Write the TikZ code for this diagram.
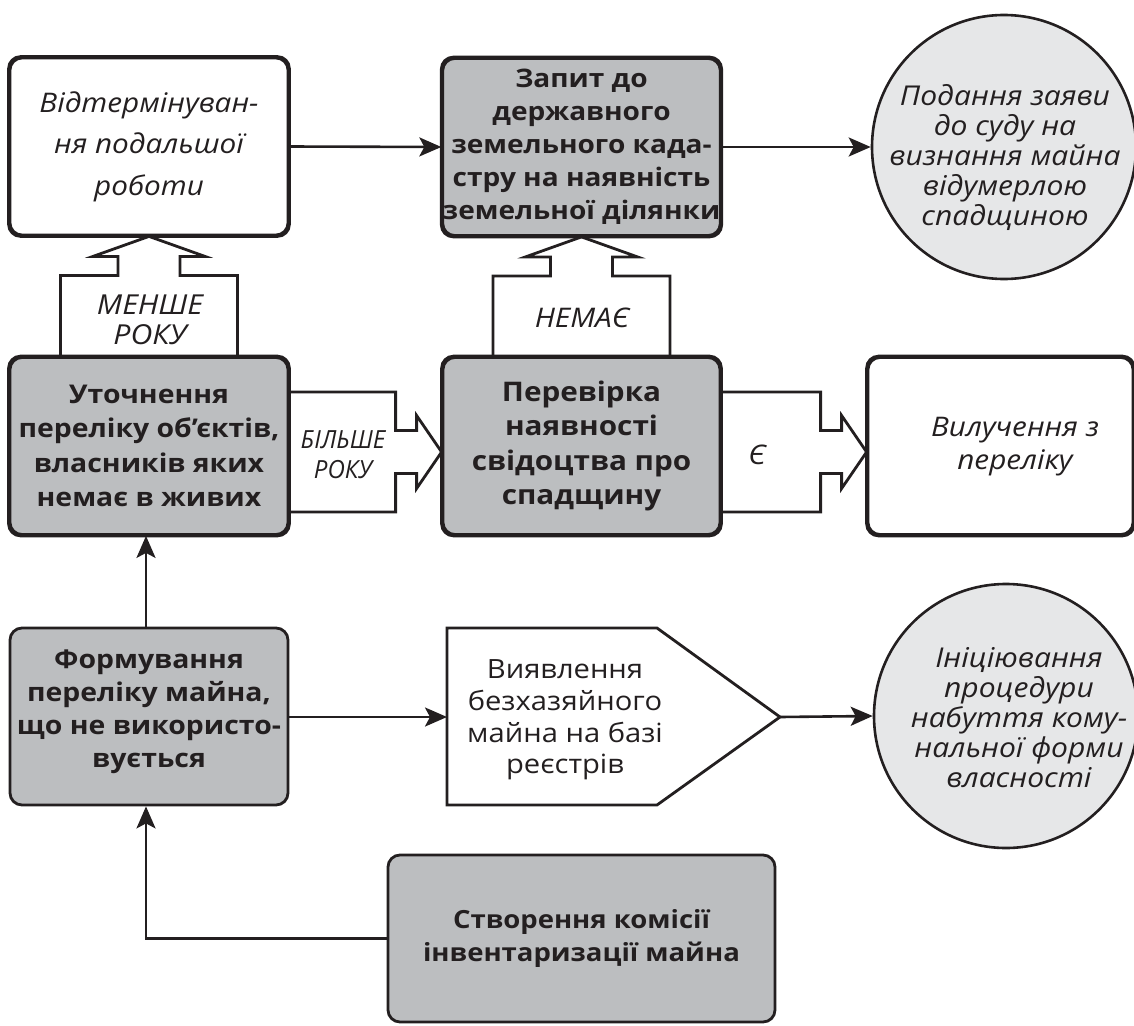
\documentclass[tikz,border=0pt]{standalone}
\usepackage{fontspec}
\setmainfont{Open Sans}[FakeStretch=1.1]
\usetikzlibrary{arrows.meta,calc}
\definecolor{ink}{HTML}{231F20}
\definecolor{boxgray}{HTML}{BCBEC0}
\definecolor{circgray}{HTML}{E6E7E8}

\begin{document}
\begin{tikzpicture}[x=1pt,y=-1pt,
  every node/.style={text=ink},
  card/.style={draw=ink, line width=2.8pt, rounded corners=12pt, rectangle,
    align=center, inner sep=0pt, minimum width=278pt, minimum height=177pt},
  greycard/.style={card, fill=boxgray},
  whitecard/.style={card, fill=white},
  disc/.style={draw=ink, line width=2.6pt, circle, fill=circgray,
    minimum size=264pt, inner sep=0pt},
  link/.style={draw=ink, line width=2.6pt, -{Stealth[length=22pt,width=19pt,inset=5pt]}},
  fat/.style={draw=ink, line width=2.8pt, fill=white, line join=miter},
  boldtxt/.style={font=\fontsize{25.8}{33}\selectfont\bfseries, align=center},
  boldsm/.style={font=\fontsize{25.5}{33}\selectfont\bfseries, align=center},
  itxt/.style={font=\fontsize{27}{33}\selectfont\itshape, align=center},
  ctxt/.style={font=\fontsize{27.3}{30}\selectfont\itshape, align=center},
  rtxt/.style={font=\fontsize{26.5}{31.7}\selectfont, align=center},
]
\useasboundingbox (0,0) rectangle (1134,1025);
\clip (0,0) rectangle (1134,1025);

% ---- boxes and circles ----
\node[whitecard, font=\fontsize{27}{41.5}\selectfont\itshape] (n1) at (149,146.5)
  {Відтермінуван-\\ня подальшої\\роботи};
\node[greycard, boldsm, minimum width=277pt] (n2) at (581.5,147)
  {Запит до\\державного\\земельного када-\\стру на наявність\\земельної ділянки};
\node[disc] (c1) at (1004,147) {};
\node[ctxt] (c1t) at (1005,158)
  {Подання заяви\\до суду на\\визнання майна\\відумерлою\\спадщиною};

\node[greycard, font=\fontsize{25.8}{34.5}\selectfont\bfseries] (n3) at (149,446)
  {Уточнення\\переліку об’єктів,\\власників яких\\немає в живих};
\node[greycard, font=\fontsize{27}{34.5}\selectfont\bfseries,
  minimum width=277pt] (n4) at (581.5,446)
  {Перевірка\\наявності\\свідоцтва про\\спадщину};
\node[whitecard, minimum width=265pt] (n5) at (1000.5,446) {};
\node[itxt] (n5t) at (1015,447) {Вилучення з\\переліку};

\node[greycard] (n6) at (149,716.5) {};
\node[boldtxt] (n6t) at (149,712)
  {Формування\\переліку майна,\\що не використо-\\вується};

% pentagon with its label
\coordinate (n7w) at (447,717);
\coordinate (n7tip) at (780,717);
\draw[fat] (447,628) -- (657,628) -- (n7tip) -- (657,805) -- (447,805) -- cycle;
\node[rtxt] (n7) at (565,720)
  {Виявлення\\безхазяйного\\майна на базі\\реєстрів};

\node[disc] (c2) at (1006,716) {};
\node[ctxt] (c2t) at (1019,718)
  {Ініціювання\\процедури\\набуття кому-\\нальної форми\\власності};

\node[greycard, font=\fontsize{25}{33}\selectfont\bfseries,
  minimum width=387pt, minimum height=167pt] (n8) at (581.5,938.5)
  {Створення комісії\\інвентаризації майна};

% ---- block arrows (vertical) ----
\foreach \lo/\hi in {n3/n1, n4/n2}{
  \path let \p1=(\lo.north), \p2=(\hi.south) in
    [fat] (\x1-88.5pt,\y1) -- (\x1-88.5pt,\y2-39pt) -- (\x1-31pt,\y2-39pt)
    -- (\x1-31pt,\y2-20pt) -- (\x1-56pt,\y2-20pt) -- (\x1,\y2)
    -- (\x1+56pt,\y2-20pt) -- (\x1+31pt,\y2-20pt) -- (\x1+31pt,\y2-39pt)
    -- (\x1+88.5pt,\y2-39pt) -- (\x1+88.5pt,\y1);
}
% ---- block arrows (horizontal) ----
\foreach \lt/\rt in {n3/n4, n4/n5}{
  \path let \p1=(\lt.east), \p2=(\rt.west) in
    [fat] (\x1,\y1+54pt) -- (\x2-46pt,\y1+54pt) -- (\x2-46pt,\y1+15.5pt)
    -- (\x2-25pt,\y1+15.5pt) -- (\x2-25pt,\y1+30.5pt) -- (\x2,\y1-6pt)
    -- (\x2-25pt,\y1-42.5pt) -- (\x2-25pt,\y1-27.5pt) -- (\x2-46pt,\y1-27.5pt)
    -- (\x2-46pt,\y1-66pt) -- (\x1,\y1-66pt);
}
% box outlines drawn again over the arrow ends
\foreach \b in {n1,n2,n3,n4,n5}{
  \draw[draw=ink, line width=2.8pt, rounded corners=12pt]
    (\b.south west) rectangle (\b.north east);
}

\node[font=\fontsize{27.5}{30}\selectfont\itshape, align=center] (l1) at (150,320)
  {МЕНШЕ\\РОКУ};
\node[font=\fontsize{27}{30}\selectfont\itshape] (l2) at (582,318) {НЕМАЄ};
\node[font=\fontsize{25}{30}\selectfont\itshape, align=center] (l3) at (343,455)
  {\scalebox{0.875}[1]{БІЛЬШЕ}\\\scalebox{0.875}[1]{РОКУ}};
\node[font=\fontsize{27}{30}\selectfont\itshape] (l4) at (757,455) {Є};

% ---- connectors ----
\draw[link] (n1.east) -- (n2.west);
\draw[link] (n2.east) -- (c1.west);
\draw[link] ([xshift=-3pt]n6.north) -- ([xshift=-3pt]n3.south);
\draw[link] (n6.east |- n7w) -- (n7w);
\draw[link] (n7tip) -- (c2.west);
\draw[link] (n8.west) -| ([xshift=-3pt]n6.south);
\end{tikzpicture}
\end{document}
